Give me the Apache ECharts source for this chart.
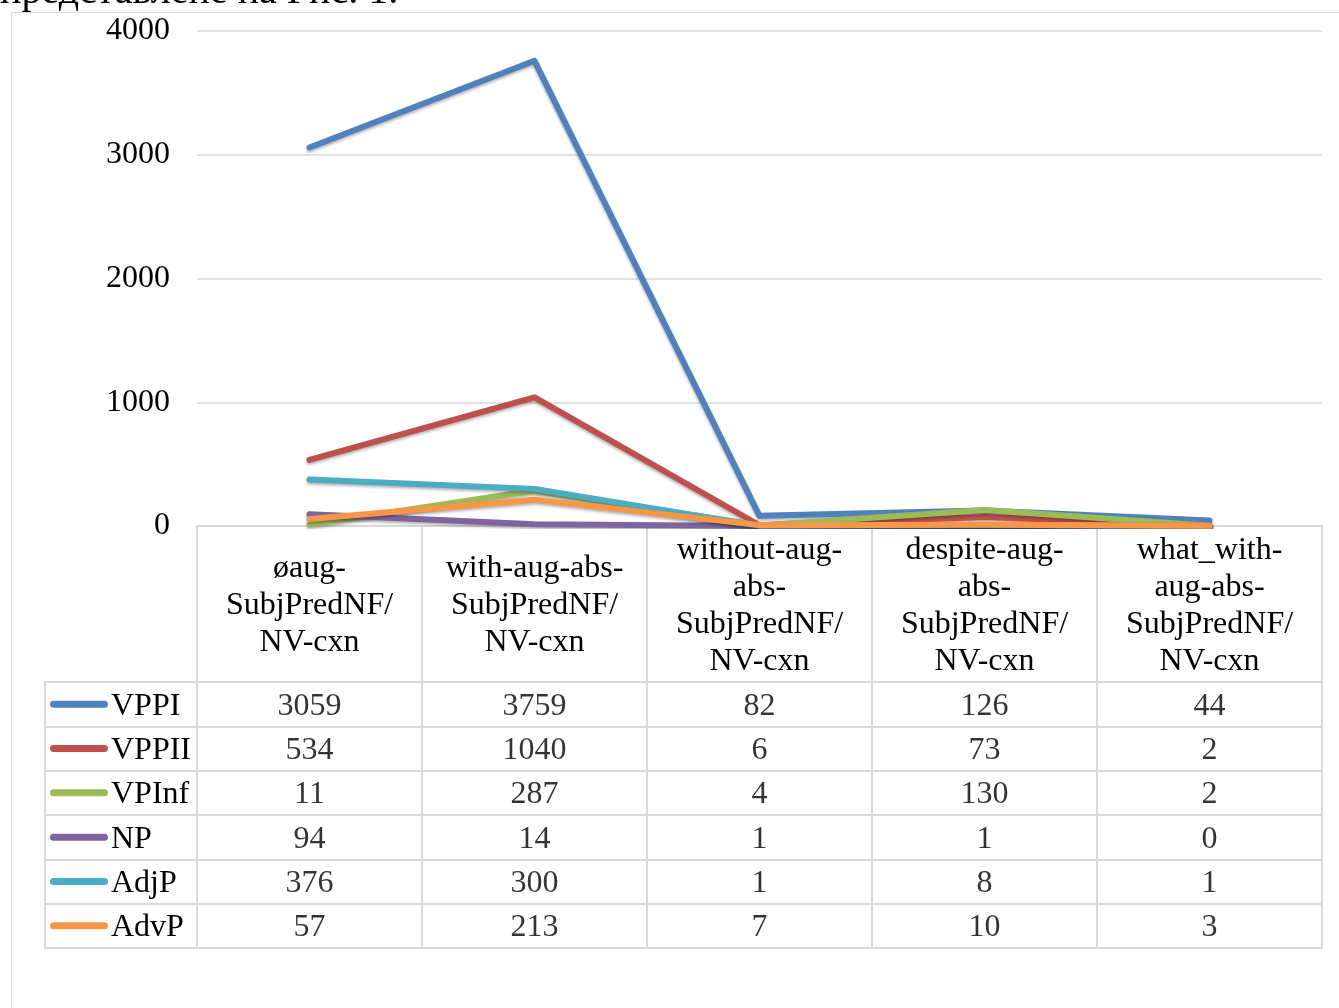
<!DOCTYPE html>
<html>
<head>
<meta charset="utf-8">
<script src="https://cdn.jsdelivr.net/npm/echarts@6/dist/echarts.min.js"></script>
<style>
  html, body { margin: 0; padding: 0; background: #fff; }
  #chart { width: 1339px; height: 1008px; }
</style>
</head>
<body>
<div id="chart"></div>
<script>
const categories = [
  'øaug-\nSubjPredNF/\nNV-cxn',
  'with-aug-abs-\nSubjPredNF/\nNV-cxn',
  'without-aug-\nabs-\nSubjPredNF/\nNV-cxn',
  'despite-aug-\nabs-\nSubjPredNF/\nNV-cxn',
  'what_with-\naug-abs-\nSubjPredNF/\nNV-cxn',
];
const seriesNames = ['VPPI', 'VPPII', 'VPInf', 'NP', 'AdjP', 'AdvP'];
const vppi = [3059, 3759, 82, 126, 44];
const vppii = [534, 1040, 6, 73, 2];
const vpinf = [11, 287, 4, 130, 2];
const np = [94, 14, 1, 1, 0];
const adjp = [376, 300, 1, 8, 1];
const advp = [57, 213, 7, 10, 3];
const yTicks = [0, 1000, 2000, 3000, 4000];

const allValues = [vppi, vppii, vpinf, np, adjp, advp];
const colors = ['#4F81BD', '#C0504D', '#9BBB59', '#8064A2', '#4BACC6', '#F79646'];
const font = '"Liberation Serif", "Times New Roman", serif';
const gridColor = '#D9D9D9';

const chart = echarts.init(document.getElementById('chart'));

// rich styles for legend keys in the data table
const rich = { n: { fontFamily: font, fontSize: 32, color: '#000', padding: [4, 0, 0, 3] } };
seriesNames.forEach((s, i) => {
  rich['s' + i] = { width: 58, height: 7, backgroundColor: colors[i], borderRadius: 3.5 };
});

const lineSeries = seriesNames.map((name, i) => ({
  name: name,
  type: 'line',
  xAxisIndex: 0,
  yAxisIndex: 0,
  data: allValues[i],
  symbol: 'none',
  lineStyle: {
    color: colors[i],
    width: 6,
    cap: 'round',
    join: 'round',
    shadowColor: 'rgba(0,0,0,0.3)',
    shadowBlur: 3,
    shadowOffsetY: 2,
  },
  itemStyle: { color: colors[i] },
  animation: false,
  silent: true,
}));

const tableData = [];
allValues.forEach((arr, r) => {
  arr.forEach((v, c) => tableData.push([c, r, v]));
});

const option = {
  animation: false,
  graphic: [
    {
      type: 'rect',
      shape: { x: 11.5, y: 12.5, width: 1400, height: 1100 },
      style: { fill: 'none', stroke: gridColor, lineWidth: 1 },
      silent: true,
    },
    {
      type: 'text',
      x: 0,
      y: 12,
      style: {
        text: 'представлене на Рис. 1.',
        font: '40px ' + font,
        fill: '#000',
        textVerticalAlign: 'bottom',
      },
      silent: true,
    },
  ],
  grid: [
    { left: 197, right: 17, top: 31, height: 495 },
    { left: 197, right: 17, top: 682, height: 266 },
  ],
  xAxis: [
    {
      type: 'category',
      gridIndex: 0,
      data: categories,
      boundaryGap: true,
      axisLine: { show: true, lineStyle: { color: gridColor, width: 2 } },
      axisTick: { show: true, interval: 0, length: 156, lineStyle: { color: gridColor, width: 2 } },
      axisLabel: {
        interval: 0,
        margin: 80,
        verticalAlign: 'middle',
        fontFamily: font,
        fontSize: 32,
        lineHeight: 37,
        color: '#000',
      },
      splitLine: { show: false },
    },
    {
      type: 'category',
      gridIndex: 1,
      data: categories,
      boundaryGap: true,
      axisLine: { show: true, lineStyle: { color: gridColor, width: 2 } },
      axisTick: { show: false },
      axisLabel: { show: false },
      splitLine: { show: true, interval: 0, lineStyle: { color: gridColor, width: 2 } },
    },
  ],
  yAxis: [
    {
      type: 'value',
      gridIndex: 0,
      min: yTicks[0],
      max: yTicks[yTicks.length - 1],
      interval: 1000,
      axisLine: { show: false },
      axisTick: { show: false },
      axisLabel: {
        margin: 27,
        fontFamily: font,
        fontSize: 32,
        color: '#000',
        padding: [4, 0, 0, 0],
        formatter: (v) => String(v),
      },
      splitLine: { show: true, lineStyle: { color: gridColor, width: 1.5 } },
    },
    {
      type: 'category',
      gridIndex: 1,
      inverse: true,
      data: seriesNames,
      boundaryGap: true,
      axisLine: { show: true, lineStyle: { color: gridColor, width: 2 } },
      axisTick: { show: true, interval: 0, length: 152, lineStyle: { color: gridColor, width: 2 } },
      axisLabel: {
        interval: 0,
        align: 'left',
        margin: 147,
        formatter: (v, i) => '{s' + i + '| }{n|' + v + '}',
        rich: rich,
      },
      splitLine: { show: true, interval: 0, lineStyle: { color: gridColor, width: 2 } },
    },
    {
      type: 'category',
      gridIndex: 1,
      inverse: true,
      data: seriesNames,
      position: 'left',
      offset: 152,
      axisLine: { show: true, lineStyle: { color: gridColor, width: 2 } },
      axisTick: { show: false },
      axisLabel: { show: false },
      splitLine: { show: false },
    },
  ],
  series: [
    ...lineSeries,
    {
      type: 'scatter',
      xAxisIndex: 1,
      yAxisIndex: 1,
      data: tableData,
      symbolSize: 1,
      itemStyle: { color: 'rgba(0,0,0,0)' },
      label: {
        show: true,
        position: 'inside',
        offset: [0, 2],
        formatter: (p) => String(p.value[2]),
        fontFamily: font,
        fontSize: 32,
        color: '#000',
      },
      silent: true,
    },
  ],
};

chart.setOption(option);
</script>
</body>
</html>
